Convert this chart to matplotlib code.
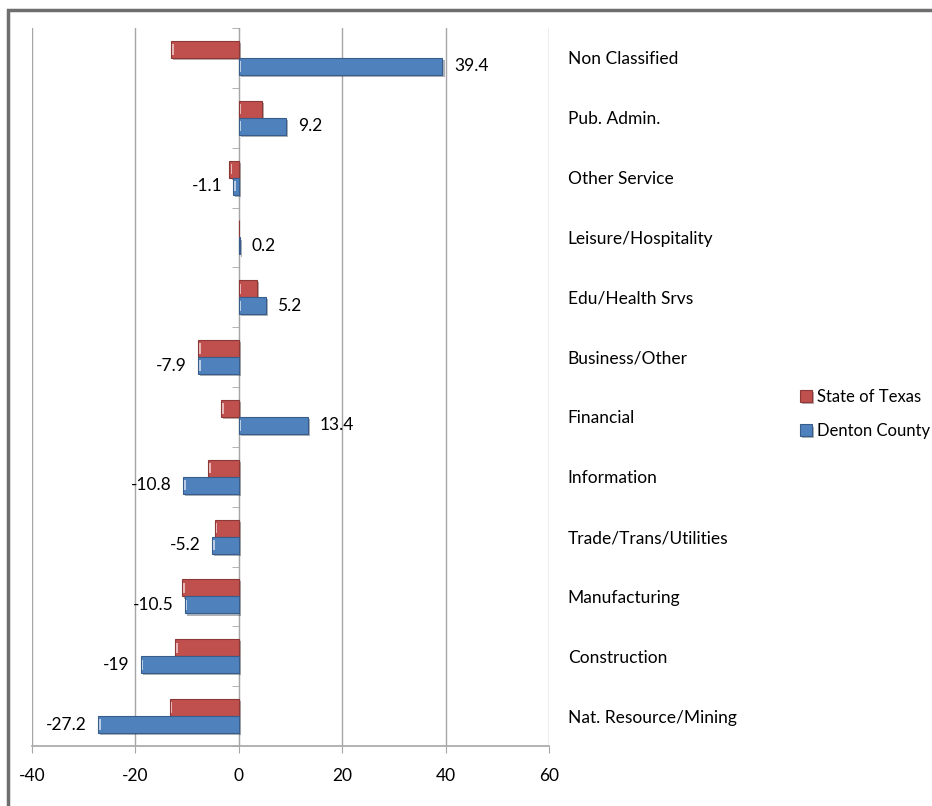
import matplotlib.pyplot as plt
import matplotlib.patheffects as pe
from matplotlib.patches import Rectangle
import numpy as np

plt.rcParams['font.family'] = ['Lato', 'DejaVu Sans']

# categories, top to bottom as shown
categories = ["Non Classified", "Pub. Admin.", "Other Service", "Leisure/Hospitality",
              "Edu/Health Srvs", "Business/Other", "Financial", "Information",
              "Trade/Trans/Utilities", "Manufacturing", "Construction",
              "Nat. Resource/Mining"]
texas = [-13.1, 4.5, -1.8, 0.0, 3.6, -7.9, -3.4, -6.0, -4.7, -11.0, -12.4, -13.4]
denton = [39.4, 9.2, -1.1, 0.2, 5.2, -7.9, 13.4, -10.8, -5.2, -10.5, -19, -27.2]
denton_labels = ["39.4", "9.2", "-1.1", "0.2", "5.2", "-7.9", "13.4", "-10.8",
                 "-5.2", "-10.5", "-19", "-27.2"]
xticks = [-40, -20, 0, 20, 40, 60]

red = "#C0504D"
red_edge = "#8C3836"
blue = "#4F81BD"
blue_edge = "#385D8A"
fs = 12.5

fig = plt.figure(figsize=(9.32, 8.06), dpi=100)
ax = fig.add_axes([32 / 932, 1 - 746 / 806, (549 - 32) / 932, (746 - 28) / 806])

y = np.arange(len(categories))
h = 0.285
shadow = [pe.SimplePatchShadow(offset=(1.5, -1.5), alpha=0.35), pe.Normal()]

b1 = ax.barh(y - h / 2, texas, height=h, color=red, edgecolor=red_edge,
             linewidth=0.8, label="State of Texas", zorder=3)
b2 = ax.barh(y + h / 2, denton, height=h, color=blue, edgecolor=blue_edge,
             linewidth=0.8, label="Denton County", zorder=3)
for bar in list(b1) + list(b2):
    bar.set_path_effects(shadow)

# small light highlight at the left end of each bar (bevel look)
for vals, off in [(texas, -h / 2), (denton, h / 2)]:
    for i, v in enumerate(vals):
        if abs(v) < 1:
            continue
        x0 = v + 0.2 if v < 0 else 0.15
        ax.add_patch(Rectangle((x0, i + off - h * 0.3), 0.35, h * 0.6,
                               color="white", alpha=0.6, zorder=4, linewidth=0))

for i, (v, lab) in enumerate(zip(denton, denton_labels)):
    if v >= 0:
        ax.annotate(lab, (v, i + h / 2), xytext=(8.5, 0), textcoords="offset points",
                    ha="left", va="center", fontsize=fs, color="#000000")
    else:
        ax.annotate(lab, (v, i + h / 2), xytext=(-8, 0), textcoords="offset points",
                    ha="right", va="center", fontsize=fs, color="#000000")

ax.set_xlim(-40, 60)
ax.set_ylim(len(categories) - 0.5, -0.5)
ax.set_xticks(xticks)
ax.set_xticklabels([str(t) for t in xticks])
ax.grid(axis="x", color="#A6A6A6", linewidth=1, zorder=0)
ax.set_axisbelow(True)

ax.spines["top"].set_visible(False)
ax.spines["right"].set_visible(False)
ax.spines["left"].set_position(("data", 0))
ax.spines["left"].set_color("#A6A6A6")
ax.spines["bottom"].set_color("#A6A6A6")
ax.spines["bottom"].set_linewidth(1.2)

ax.set_yticks(y)
ax.set_yticklabels(categories)
ax.set_yticks(np.arange(len(categories) + 1) - 0.5, minor=True)
ax.tick_params(axis="y", which="major", left=False, right=False,
               labelleft=False, labelright=True, pad=10, labelsize=fs)
ax.tick_params(axis="y", which="minor", left=True, length=5, color="#A6A6A6")
ax.tick_params(axis="x", length=5, color="#A6A6A6", pad=11, labelsize=fs)

fig.legend(handles=[b1, b2], labels=["State of Texas", "Denton County"],
           loc="center left", bbox_to_anchor=(800 / 932, 1 - 414 / 806),
           frameon=False, fontsize=12, handlelength=0.7, handleheight=0.7,
           handletextpad=0.3, labelspacing=1.1, borderaxespad=0, borderpad=0)

# outer chart frame (cropped on the right and bottom)
fig.patches.append(Rectangle((8 / 932, -0.2), 1.5, 1 - 10 / 806 + 0.2,
                             transform=fig.transFigure, fill=False,
                             edgecolor="#6E6E6E", linewidth=2.5, clip_on=False))

fig.savefig("out.png", dpi=100)
